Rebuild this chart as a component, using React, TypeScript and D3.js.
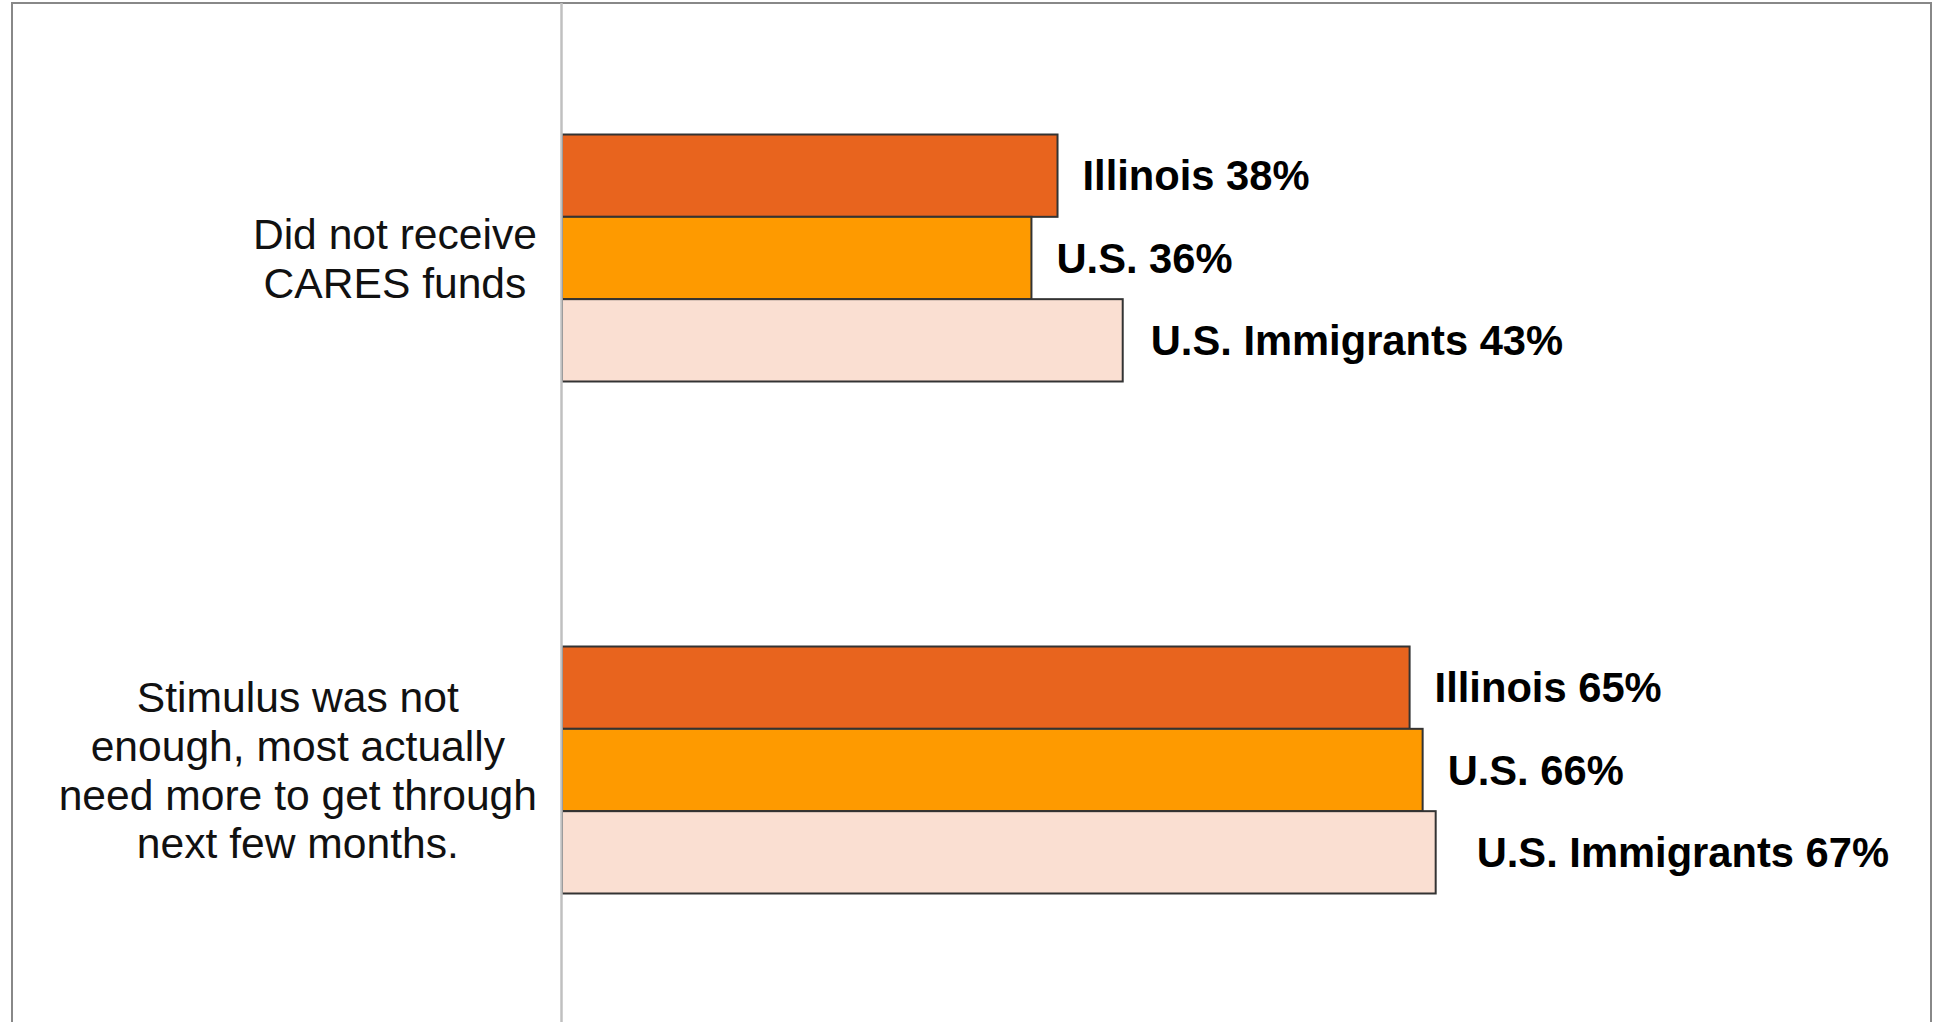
import React, { useEffect, useRef } from "react";
import * as d3 from "d3";

const categories = [
  "Did not receive CARES funds",
  "Stimulus was not enough, most actually need more to get through next few months.",
];
const categoryLines = [
  ["Did not receive", "CARES funds"],
  ["Stimulus was not", "enough, most actually", "need more to get through", "next few months."],
];
const seriesNames = ["Illinois", "U.S.", "U.S. Immigrants"];
const illinoisValues = [38, 65];
const usValues = [36, 66];
const immigrantValues = [43, 67];
const seriesValues = [illinoisValues, usValues, immigrantValues];
const seriesColors = ["#E8641E", "#FE9A00", "#FADFD2"];

// manual label nudges (layout only)
const labelNudge: Record<string, number[]> = {
  "U.S. Immigrants": [3, 16],
};

const W = 1937;
const H = 1022;
const FONT = "'Liberation Sans', Arial, sans-serif";

export default function App() {
  const ref = useRef<SVGSVGElement | null>(null);

  useEffect(() => {
    const svg = d3.select(ref.current);
    svg.selectAll("*").remove();

    const axisX = 562;
    const x = d3.scaleLinear().domain([0, 100]).range([axisX, axisX + 1304]);
    const y0 = d3
      .scaleBand<string>()
      .domain(categories)
      .range([2, 1026])
      .paddingInner(0.5176)
      .paddingOuter(0.2588);
    const y1 = d3.scaleBand<string>().domain(seriesNames).range([0, y0.bandwidth()]);

    svg.append("rect").attr("x", 0).attr("y", 0).attr("width", W).attr("height", H).attr("fill", "#fff");

    // outer border
    svg
      .append("rect")
      .attr("x", 12)
      .attr("y", 3)
      .attr("width", 1919)
      .attr("height", 1040)
      .attr("fill", "none")
      .attr("stroke", "#888")
      .attr("stroke-width", 2);

    // bars
    const g = svg.append("g");
    categories.forEach((cat, ci) => {
      seriesNames.forEach((s, si) => {
        const v = seriesValues[si][ci];
        const yTop = (y0(cat) as number) + (y1(s) as number);
        g.append("rect")
          .attr("x", x(0))
          .attr("y", yTop)
          .attr("width", x(v) - x(0))
          .attr("height", y1.bandwidth())
          .attr("fill", seriesColors[si])
          .attr("stroke", "#333")
          .attr("stroke-width", 2);
        const nudge = labelNudge[s] ? labelNudge[s][ci] : 0;
        g.append("text")
          .attr("x", x(v) + 25 + nudge)
          .attr("y", yTop + y1.bandwidth() / 2)
          .attr("dy", "0.355em")
          .attr("font-family", FONT)
          .attr("font-weight", "bold")
          .attr("font-size", 41.7)
          .attr("fill", "#000")
          .text(`${s} ${v}%`);
      });
    });

    // axis line
    svg
      .append("line")
      .attr("x1", axisX - 0.5)
      .attr("x2", axisX - 0.5)
      .attr("y1", 3)
      .attr("y2", H)
      .attr("stroke", "#c0c0c0")
      .attr("stroke-width", 2.5);

    // category labels
    const fs = 42.6;
    const lh = 48.8;
    const capH = 0.716 * fs;
    const rightEdge = 537;
    categories.forEach((cat, ci) => {
      const lines = categoryLines[ci];
      const cy = (y0(cat) as number) + y0.bandwidth() / 2;
      const lg = svg.append("g");
      const texts = lines.map((ln, li) =>
        lg
          .append("text")
          .attr("y", cy - ((lines.length - 1) * lh) / 2 + capH / 2 + li * lh)
          .attr("font-family", FONT)
          .attr("font-size", fs)
          .attr("fill", "#111")
          .attr("text-anchor", "middle")
          .text(ln)
      );
      let maxW = 0;
      texts.forEach((t) => {
        const node = t.node() as SVGTextElement;
        maxW = Math.max(maxW, node.getComputedTextLength());
      });
      const cx = rightEdge - maxW / 2;
      texts.forEach((t) => t.attr("x", cx));
    });
  }, []);

  return (
    <svg
      ref={ref}
      width={W}
      height={H}
      style={{ position: "absolute", left: 0, top: 0, display: "block" }}
    />
  );
}
